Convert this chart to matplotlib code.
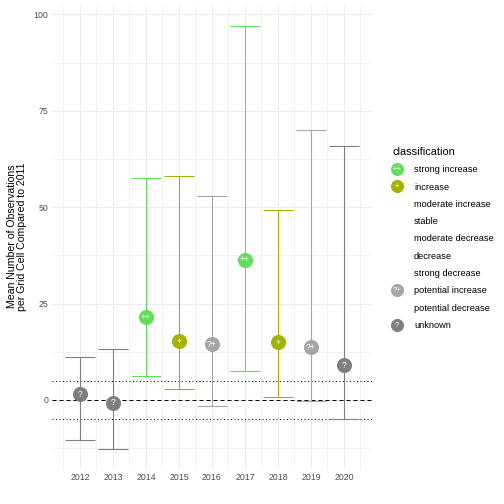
import matplotlib.pyplot as plt
from matplotlib.lines import Line2D
from matplotlib.text import Text
from matplotlib.legend_handler import HandlerBase

plt.rcParams['font.family'] = ['Liberation Sans', 'DejaVu Sans']

years = [2012, 2013, 2014, 2015, 2016, 2017, 2018, 2019, 2020]
mean = [1.5, -0.7, 21.5, 15.2, 14.4, 36.3, 15.0, 13.7, 9.0]
upper = [11.2, 13.3, 57.5, 58.2, 52.8, 97.0, 49.2, 69.9, 65.8]
lower = [-10.5, -12.6, 6.1, 2.8, -1.5, 7.4, 0.7, -0.4, -5.0]
classes = ['unknown', 'unknown', 'strong increase', 'increase', 'potential increase',
           'strong increase', 'increase', 'potential increase', 'unknown']

class_order = ['strong increase', 'increase', 'moderate increase', 'stable',
               'moderate decrease', 'decrease', 'strong decrease',
               'potential increase', 'potential decrease', 'unknown']
class_colors = {'strong increase': '#62df5a', 'increase': '#a3b300',
                'potential increase': '#a5a5a5', 'unknown': '#7f7f7f'}
class_symbols = {'strong increase': '++', 'increase': '+',
                 'potential increase': '?+', 'unknown': '?'}


class SymbolHandler(HandlerBase):
    # circle key with the class symbol written on it
    def __init__(self, symbol):
        super().__init__()
        self.symbol = symbol

    def create_artists(self, legend, orig_handle, xdescent, ydescent,
                       width, height, fontsize, trans):
        cx = width / 2 - xdescent
        cy = height / 2 - ydescent
        dot = Line2D([cx], [cy], marker='o', ls='', ms=12,
                     color=orig_handle.get_color(), transform=trans)
        txt = Text(cx, cy - 0.5, self.symbol, color='white', fontsize=7.5,
                   ha='center', va='center', transform=trans)
        return [dot, txt]


fig = plt.figure(figsize=(7, 7), dpi=72)
ax = fig.add_axes([0.103, 0.071, 0.635, 0.919])

# reference lines
ax.axhline(0, color='black', lw=1.0, ls=(0, (4, 3)), zorder=1)
ax.axhline(5, color='black', lw=1.0, ls=(0, (1, 2.5)), zorder=1)
ax.axhline(-5, color='black', lw=1.0, ls=(0, (1, 2.5)), zorder=1)

# error bars and points
for yr, m, hi, lo, cl in zip(years, mean, upper, lower, classes):
    c = class_colors[cl]
    ax.vlines(yr, lo, hi, color=c, lw=1.1, zorder=2, snap=True)
    ax.hlines([lo, hi], yr - 0.45, yr + 0.45, color=c, lw=1.1, zorder=2, snap=True)
    ax.plot(yr, m, 'o', ms=14, color=c, mec=c, zorder=3)
    ax.text(yr, m, class_symbols[cl], color='white', fontsize=8.5,
            ha='center', va='center', zorder=4)

ax.set_xlim(2011.15, 2020.85)
ax.set_ylim(-17.7, 102.4)
ax.set_xticks(years)
ax.set_xticks([y + 0.5 for y in [2011] + years], minor=True)
ax.set_yticks([0, 25, 50, 75, 100])
ax.set_yticks([-12.5, 12.5, 37.5, 62.5, 87.5], minor=True)
ax.grid(which='major', color='#ebebeb', lw=1.0)
ax.grid(which='minor', color='#ebebeb', lw=0.6)
ax.set_axisbelow(True)
for s in ax.spines.values():
    s.set_visible(False)
ax.tick_params(which='both', length=0, labelsize=8.8, labelcolor='#4d4d4d')
ax.tick_params(axis='x', pad=5)
ax.set_ylabel('Mean Number of Observations\nper Grid Cell Compared to 2011',
              fontsize=10.5, labelpad=7, linespacing=0.95)

# legend
handles = []
hmap = {}
for cl in class_order:
    if cl in class_colors:
        h = Line2D([], [], color=class_colors[cl])
        hmap[h] = SymbolHandler(class_symbols[cl])
    else:
        h = Line2D([], [], ls='', marker='')
    handles.append(h)
fig.legend(handles, class_order, handler_map=hmap,
           loc='center left', bbox_to_anchor=(0.762, 0.527), frameon=False,
           title='classification', title_fontsize=11, fontsize=9.2,
           alignment='left', handlelength=1.05, handletextpad=1.3,
           labelspacing=0.9)

fig.savefig('out.png', dpi=72)
